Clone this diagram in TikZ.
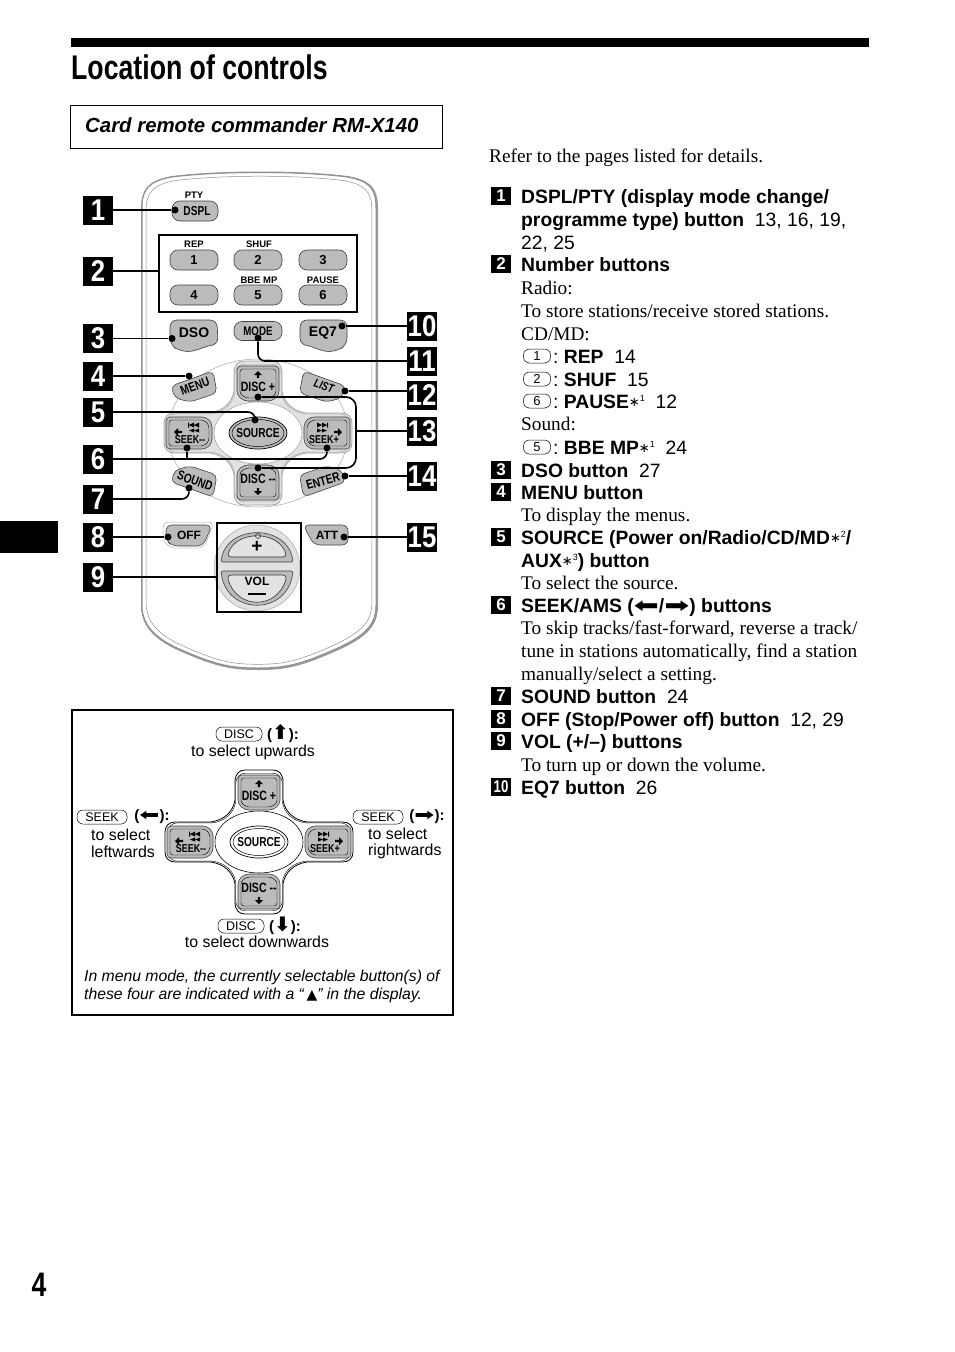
\documentclass[tikz,border=0pt]{standalone}
\usepackage{fontspec}
\setmainfont{Liberation Serif}
\setsansfont{Liberation Sans}
\newfontfamily\narrowfont[FakeStretch=0.78]{Liberation Sans}
\newfontfamily\tagfont[FakeStretch=0.86]{Liberation Sans}
\newfontfamily\symbfont{DejaVu Sans}
\usepackage{tikz}
\usetikzlibrary{arrows.meta}
\definecolor{btngray}{HTML}{BBBBBB}
\definecolor{padgray}{HTML}{E2E2E2}
\definecolor{bodyline}{HTML}{8E8E8E}
\newcommand{\fsz}[1]{\fontsize{#1}{#1}\selectfont}
\newcommand{\fnmark}[1]{\raisebox{.1em}{\mdseries{\symbfont\fsz{13}\char"2217}\raisebox{.25em}{\sffamily\fsz{9}#1}}}
\newcommand{\larrow}{\scalebox{1.5}[1]{\symbfont\fsz{20}\char"2B05}}
\newcommand{\rarrow}{\scalebox{1.5}[1]{\symbfont\fsz{20}\char"27A1}}
\newcommand{\uarrow}{{\symbfont\fsz{20}\char"2B06}}
\newcommand{\darrow}{{\symbfont\fsz{20}\char"2B07}}
\tikzset{
    tagbig/.style={fill=black,text=white,inner sep=0pt,minimum width=30pt,minimum height=29pt,font=\tagfont\bfseries\fsz{30}},
    tagsmall/.style={fill=black,text=white,inner sep=0pt,minimum width=20pt,minimum height=18pt,font=\sffamily\bfseries\fsz{17}},
    btn/.style={draw=black!75,fill=btngray,line width=.6pt,rounded corners=4pt},
    capbtn/.style={btn,inner sep=0pt,minimum width=48pt,minimum height=20pt,rounded corners=8pt},
    lbl/.style={inner sep=0pt,font=\narrowfont\bfseries\fsz{13}},
    toplbl/.style={inner sep=0pt,font=\sffamily\bfseries\fsz{9.5}},
    dot/.style={circle,fill=black,inner sep=0pt,minimum size=7pt},
    leader/.style={line width=1.6pt,rounded corners=7pt},
    frameline/.style={draw,line width=2pt,inner sep=0pt},
    pill/.style={draw,line width=.5pt,rounded corners=6pt,inner sep=0pt,minimum height=14pt,font=\sffamily\fsz{12.5}},
    listb/.style={anchor=base west,inner sep=0pt,font=\sffamily\bfseries\fsz{19.3}},
    listr/.style={anchor=base west,inner sep=0pt,font=\rmfamily\fsz{19.3}},
    boxtxt/.style={inner sep=0pt,font=\sffamily\fsz{15.9}},
    keyarrow/.style={inner sep=0pt,font=\sffamily\bfseries\fsz{15}},
    body outline/.style={insert path={(142,208) .. controls (142,188) and (150,181) .. (172,177) .. controls (220,171) and (300,171) .. (347,177) .. controls (369,181) and (376,188) .. (376,208) -- (376,605) .. controls (376,625) and (365,635) .. (340,647) .. controls (300,665) and (285,668) .. (258,668) .. controls (230,668) and (215,665) .. (175,647) .. controls (155,637) and (142,625) .. (142,605) -- cycle}},
    pad outline/.style={insert path={(-24,-60) .. controls (-24,-68) and (-20,-72) .. (-14,-72) -- (14,-72) .. controls (20,-72) and (24,-68) .. (24,-60) -- (24,-42) .. controls (26,-30) and (35,-22) .. (48,-20) -- (84,-20) .. controls (90,-20) and (94,-16) .. (94,-10) -- (94,10) .. controls (94,16) and (90,20) .. (84,20) -- (48,20) .. controls (35,22) and (26,30) .. (24,42) -- (24,60) .. controls (24,68) and (20,72) .. (14,72) -- (-14,72) .. controls (-20,72) and (-24,68) .. (-24,60) -- (-24,42) .. controls (-26,30) and (-35,22) .. (-48,20) -- (-84,20) .. controls (-90,20) and (-94,16) .. (-94,10) -- (-94,-10) .. controls (-94,-16) and (-90,-20) .. (-84,-20) -- (-48,-20) .. controls (-35,-22) and (-26,-30) .. (-24,-42) -- cycle}},
}
\newcommand{\dpad}[5]{
    \begin{scope}[shift={(#2)}]
        \draw[draw=#4,fill=#3,line width=.8pt,pad outline];
        \draw[draw=#4,line width=.4pt,xscale=.97,yscale=.955,pad outline];
        \draw[draw=#4,fill=white,line width=.6pt] (0,0) ellipse (44 and 31);
        \draw[draw=black,fill=#5,line width=.7pt] (0,0) ellipse (29 and 16);
        \draw[draw=black,line width=.5pt] (0,0) ellipse (26 and 13.5);
        \foreach \s in {1,-1} {
            \begin{scope}[yscale=\s]
                \draw[btn] (-21,-67) -- (21,-67) -- (21,-38) -- (14,-32) -- (-14,-32) -- (-21,-38) -- cycle;
                \draw[black,line width=.4pt,rounded corners=3pt] (-18,-64) -- (18,-64) -- (18,-39) -- (12,-35) -- (-12,-35) -- (-18,-39) -- cycle;
                \fill (0,-62) -- (4,-58) -- (1.2,-58) -- (1.2,-55) -- (-1.2,-55) -- (-1.2,-58) -- (-4,-58) -- cycle;
            \end{scope}
            \begin{scope}[xscale=\s]
                \draw[btn] (92,-16) -- (52,-16) -- (46,-10) -- (46,10) -- (52,16) -- (92,16) -- cycle;
                \draw[black,line width=.4pt,rounded corners=3pt] (89,-13) -- (54,-13) -- (49,-8) -- (49,8) -- (54,13) -- (89,13) -- cycle;
                \fill (84,-1) -- (80,-5) -- (80,-2.2) -- (76,-2.2) -- (76,.2) -- (80,.2) -- (80,3) -- cycle;
                \fill (59,-10.5) -- (64,-8) -- (59,-5.5) -- cycle (64,-10.5) -- (69,-8) -- (64,-5.5) -- cycle (69,-10.5) rectangle (70,-5.5);
                \fill (59,-4.5) -- (64,-2.5) -- (59,-.5) -- cycle (64,-4.5) -- (69,-2.5) -- (64,-.5) -- cycle;
            \end{scope}
        }
        \node[lbl] (#1src) at (0,0) {SOURCE};
        \node[lbl,font=\narrowfont\bfseries\fsz{13.5}] (#1up) at (0,-46) {DISC +};
        \node[lbl,font=\narrowfont\bfseries\fsz{13.5}] (#1down) at (0,46) {DISC --};
        \node[lbl,font=\narrowfont\bfseries\fsz{11.5}] (#1left) at (-68,7) {SEEK--};
        \node[lbl,font=\narrowfont\bfseries\fsz{11.5}] (#1right) at (66,7) {SEEK+};
    \end{scope}
}
\begin{document}
\begin{tikzpicture}[x=1pt,y=-1pt]
    \useasboundingbox (0,0) rectangle (954,1352);
    \fill (71,38) rectangle (869,47);
    \fill (0,521) rectangle (58,553);
    \node[anchor=base west,inner sep=0pt,font=\narrowfont\bfseries\fsz{34.2}] (title) at (71,79) {Location of controls};
    \node[anchor=base,inner sep=0pt,font=\narrowfont\bfseries\fsz{34}] (pagenum) at (39,1296) {4};
    \node[draw,line width=.8pt,inner sep=0pt,minimum width=372pt,minimum height=43.5pt] (cardbox) at (256,127) {};
    \node[anchor=west,inner sep=0pt,font=\sffamily\bfseries\itshape\fsz{20.4}] (cardtxt) at (85,125) {Card remote commander RM-X140};
    % remote body
    \draw[black!40,line width=3pt,shift={(.5,.5)},body outline];
    \draw[bodyline,fill=white,line width=1pt,body outline];
    \draw[bodyline,line width=.5pt,shift={(258,420)},xscale=.965,yscale=.985,shift={(-258,-420)},body outline];
    \draw[black!35,line width=.5pt] (258,433) ellipse (90 and 74);
    % buttons
    \node[capbtn,minimum width=46pt] (dspl) at (195,211) {};
    \node[lbl] (dspltxt) at (197,211) {DSPL};
    \node[toplbl] (pty) at (194,195) {PTY};
    \foreach \n/\px/\py in {1/194/260,2/258/260,3/323/260,4/194/295,5/258/295,6/323/295} {
        \node[capbtn,font=\sffamily\bfseries\fsz{13}] (num\n) at (\px,\py) {\n};
    }
    \node[toplbl] (rep) at (194,244.5) {REP};
    \node[toplbl] (shuf) at (259,244.5) {SHUF};
    \node[toplbl] (bbe) at (259,280) {BBE MP};
    \node[toplbl] (pause) at (323,280) {PAUSE};
    \node[frameline,minimum width=198pt,minimum height=77pt] (numbox) at (258,273.5) {};
    \draw[btn,rounded corners=7pt] (170,320) -- (217,320) -- (218,345) .. controls (205,346) and (195,352) .. (180,351) -- (170,345) -- cycle;
    \node[lbl,font=\sffamily\bfseries\fsz{14}] (dso) at (194,333) {DSO};
    \node[capbtn,minimum height=19pt] (mode) at (258,331) {};
    \node[lbl,font=\narrowfont\bfseries\fsz{12.5}] (modetxt) at (258,331) {MODE};
    \draw[btn,rounded corners=7pt] (300,320) -- (347,320) -- (347,345) -- (337,351) .. controls (322,352) and (312,346) .. (300,345) -- cycle;
    \node[lbl,font=\sffamily\bfseries\fsz{14}] (eq) at (323,333) {EQ7};
    \draw[btn,rounded corners=5pt] (171,386) -- (213,371) -- (217,393) -- (190,402) -- (175,398) -- cycle;
    \node[lbl,rotate=20] (menu) at (195,386) {MENU};
    \draw[btn,rounded corners=5pt] (345.5,386) -- (303.5,371) -- (299.5,393) -- (326.5,402) -- (341.5,398) -- cycle;
    \node[lbl,rotate=-18,font=\narrowfont\bfseries\itshape\fsz{12}] (list) at (324,386) {LIST};
    \draw[btn,rounded corners=5pt] (171,482) -- (213,497) -- (217,475) -- (190,466) -- (175,470) -- cycle;
    \node[lbl,rotate=-20] (sound) at (195,481) {SOUND};
    \draw[btn,rounded corners=5pt] (345.5,482) -- (303.5,497) -- (299.5,475) -- (326.5,466) -- (341.5,470) -- cycle;
    \node[lbl,rotate=15] (enter) at (323,481) {ENTER};
    \dpad{top}{258,433}{padgray}{black!35}{btngray}
    \draw[black!30,line width=.5pt,rounded corners=6pt] (163,522) -- (214,522) -- (204,548) -- (170,548) -- (163,540) -- cycle;
    \draw[btn,rounded corners=6pt] (166,525) -- (212,525) -- (203,546) -- (172,546) -- (166,540) -- cycle;
    \node[lbl,font=\sffamily\bfseries\fsz{12}] (off) at (189,535) {OFF};
    \draw[btn,rounded corners=6pt] (303,525) -- (348,525) -- (348,545) -- (314,545) -- cycle;
    \node[lbl,font=\sffamily\bfseries\fsz{12}] (att) at (327,535) {ATT};
    \draw[black!35,fill=padgray,line width=.5pt] (257,568) circle (43);
    \draw[btn,rounded corners=2pt] (221,562) .. controls (226,523.5) and (288,523.5) .. (293,562) -- cycle;
    \draw[btn,rounded corners=2pt] (221,571) .. controls (226,616) and (288,616) .. (293,571) -- cycle;
    \draw[black!80,fill=padgray,line width=.6pt,rounded corners=4pt] (227,557) .. controls (236,530) and (278,530) .. (287,557) -- cycle;
    \draw[black!80,fill=padgray,line width=.6pt,rounded corners=4pt] (227,575) .. controls (236,610) and (278,610) .. (287,575) -- cycle;
    \node[draw,circle,line width=.4pt,inner sep=0pt,minimum size=5pt] (volmark) at (258,536) {};
    \node[lbl,font=\sffamily\bfseries\fsz{19}] (volup) at (257,547) {+};
    \node[lbl,font=\sffamily\bfseries\fsz{12}] (vol) at (257,581) {VOL};
    \draw[line width=1.8pt] (248,594) -- (266,594);
    \node[frameline,minimum width=84pt,minimum height=89pt] (volbox) at (259,567.5) {};
    % callouts
    \foreach \n/\y in {1/210,2/271,3/338.5,4/376,5/412,6/459,7/499,8/537,9/577} {
        \node[tagbig] (t\n) at (98,\y) {\n};
    }
    \foreach \n/\y in {10/326,11/361,12/395,13/431,14/476,15/537} {
        \node[tagbig] (t\n) at (422,\y) {\n};
    }
    \node[dot] (d1) at (175,210) {};
    \node[dot] (d3) at (172,338.5) {};
    \node[dot] (d4) at (189,376) {};
    \node[dot] (d5) at (255,420) {};
    \node[dot] (d6a) at (187,448) {};
    \node[dot] (d6b) at (327,448) {};
    \node[dot] (d7) at (189,488) {};
    \node[dot] (d8) at (168,537) {};
    \node[dot] (d10) at (342,326) {};
    \node[dot] (d11) at (258,338) {};
    \node[dot] (d12) at (345,391) {};
    \node[dot] (d13a) at (258,397) {};
    \node[dot] (d13b) at (258,468) {};
    \node[dot] (d14) at (345,476) {};
    \node[dot] (d15) at (344,537) {};
    \coordinate (c13) at (356,431);
    \draw[leader] (t1) -- (d1);
    \draw[leader] (t2) -- (t2 -| numbox.west);
    \draw[leader] (t3) -- (d3);
    \draw[leader] (t4) -- (d4);
    \draw[leader] (t5) -| (d5);
    \draw[leader,sharp corners] (t6 -| d6a) -- (d6a);
    \draw[leader] (t6) -| (d6b);
    \draw[leader] (t7) -| (d7);
    \draw[leader] (t8) -- (d8);
    \draw[leader] (t9) -- (t9 -| volbox.west);
    \draw[leader] (t10) -- (d10);
    \draw[leader] (d11) |- (t11);
    \draw[leader] (d12) -- (d12 -| t12.west);
    \draw[leader,rounded corners=10pt] (d13a) -| (c13) |- (d13b);
    \draw[leader] (c13) -- (t13);
    \draw[leader] (t14) -- (d14);
    \draw[leader] (t15) -- (d15);
    % direction box
    \node[frameline,minimum width=381pt,minimum height=305pt] (dirbox) at (262.5,862.5) {};
    \dpad{low}{259,842}{white}{black}{white}
    \node[pill,minimum width=46pt] (k1) at (239,734) {DISC};
    \node[keyarrow] (k1a) at (283,734) {(\uarrow):};
    \node[boxtxt] (k1b) at (253,752) {to select upwards};
    \node[pill,minimum width=50pt] (k2) at (102,817) {SEEK};
    \node[keyarrow] (k2a) at (152,817) {(\scalebox{.8}{\larrow}):};
    \node[boxtxt,anchor=west] (k2b) at (91,835) {to select};
    \node[boxtxt,anchor=west] (k2c) at (91,852) {leftwards};
    \node[pill,minimum width=50pt] (k3) at (378,817) {SEEK};
    \node[keyarrow] (k3a) at (427,817) {(\scalebox{.8}{\rarrow}):};
    \node[boxtxt,anchor=west] (k3b) at (368,834) {to select};
    \node[boxtxt,anchor=west] (k3c) at (368,851) {rightwards};
    \node[pill,minimum width=46pt] (k4) at (241,926) {DISC};
    \node[keyarrow] (k4a) at (285,926) {(\darrow):};
    \node[boxtxt] (k4b) at (257,942) {to select downwards};
    \node[boxtxt,anchor=base west,font=\sffamily\itshape\fsz{15.75}] (note1) at (84,981) {In menu mode, the currently selectable button(s) of};
    \node[boxtxt,anchor=base west,font=\sffamily\itshape\fsz{15.75}] (note2) at (84,999) {these four are indicated with a ``\,{\symbfont\upshape\fsz{14}▲}'' in the display.};
    % text column
    \node[listr] (intro) at (489,162) {Refer to the pages listed for details.};
    \foreach \n/\y in {1/196,2/264,3/470,4/492,5/537,6/605,7/696,8/719,9/741} {
        \node[tagsmall] (s\n) at (501,\y) {\n};
    }
    \node[tagsmall,font=\narrowfont\bfseries\fsz{17}] (s10) at (501,787) {10};
    \node[listb] (l1) at (521,203) {DSPL/PTY (display mode change/};
    \node[listb] (l2) at (521,226) {programme type) button\ \ \mdseries 13, 16, 19,};
    \node[listb] (l3) at (521,249) {\mdseries 22, 25};
    \node[listb] (l4) at (521,271) {Number buttons};
    \node[listr] (l5) at (521,294) {Radio:};
    \node[listr] (l6) at (521,317) {To store stations/receive stored stations.};
    \node[listr] (l7) at (521,340) {CD/MD:};
    \node[pill,minimum width=27pt,font=\sffamily\fsz{13}] (p1) at (537,356) {1};
    \node[listb] (l8) at (553,363) {\mdseries:\ \bfseries REP\ \ \mdseries 14};
    \node[pill,minimum width=27pt,font=\sffamily\fsz{13}] (p2) at (537,379) {2};
    \node[listb] (l9) at (553,386) {\mdseries:\ \bfseries SHUF\ \ \mdseries 15};
    \node[pill,minimum width=27pt,font=\sffamily\fsz{13}] (p3) at (537,401) {6};
    \node[listb] (l10) at (553,408) {\mdseries:\ \bfseries PAUSE\fnmark{1}\ \ \mdseries 12};
    \node[listr] (l11) at (521,430) {Sound:};
    \node[pill,minimum width=27pt,font=\sffamily\fsz{13}] (p4) at (537,447) {5};
    \node[listb] (l12) at (553,454) {\mdseries:\ \bfseries BBE MP\fnmark{1}\ \ \mdseries 24};
    \node[listb] (l13) at (521,477) {DSO button\ \ \mdseries 27};
    \node[listb] (l14) at (521,499) {MENU button};
    \node[listr] (l15) at (521,521) {To display the menus.};
    \node[listb] (l16) at (521,544) {SOURCE (Power on/Radio/CD/MD\fnmark{2}/};
    \node[listb] (l17) at (521,567) {AUX\fnmark{3}) button};
    \node[listr] (l18) at (521,589) {To select the source.};
    \node[listb] (l19) at (521,612) {SEEK/AMS (\larrow/\rarrow) buttons};
    \node[listr] (l20) at (521,634) {To skip tracks/fast-forward, reverse a track/};
    \node[listr] (l21) at (521,657) {tune in stations automatically, find a station};
    \node[listr] (l22) at (521,680) {manually/select a setting.};
    \node[listb] (l23) at (521,703) {SOUND button\ \ \mdseries 24};
    \node[listb] (l24) at (521,726) {OFF (Stop/Power off) button\ \ \mdseries 12, 29};
    \node[listb] (l25) at (521,748) {VOL (+/--) buttons};
    \node[listr] (l26) at (521,771) {To turn up or down the volume.};
    \node[listb] (l27) at (521,794) {EQ7 button\ \ \mdseries 26};
\end{tikzpicture}
\end{document}
